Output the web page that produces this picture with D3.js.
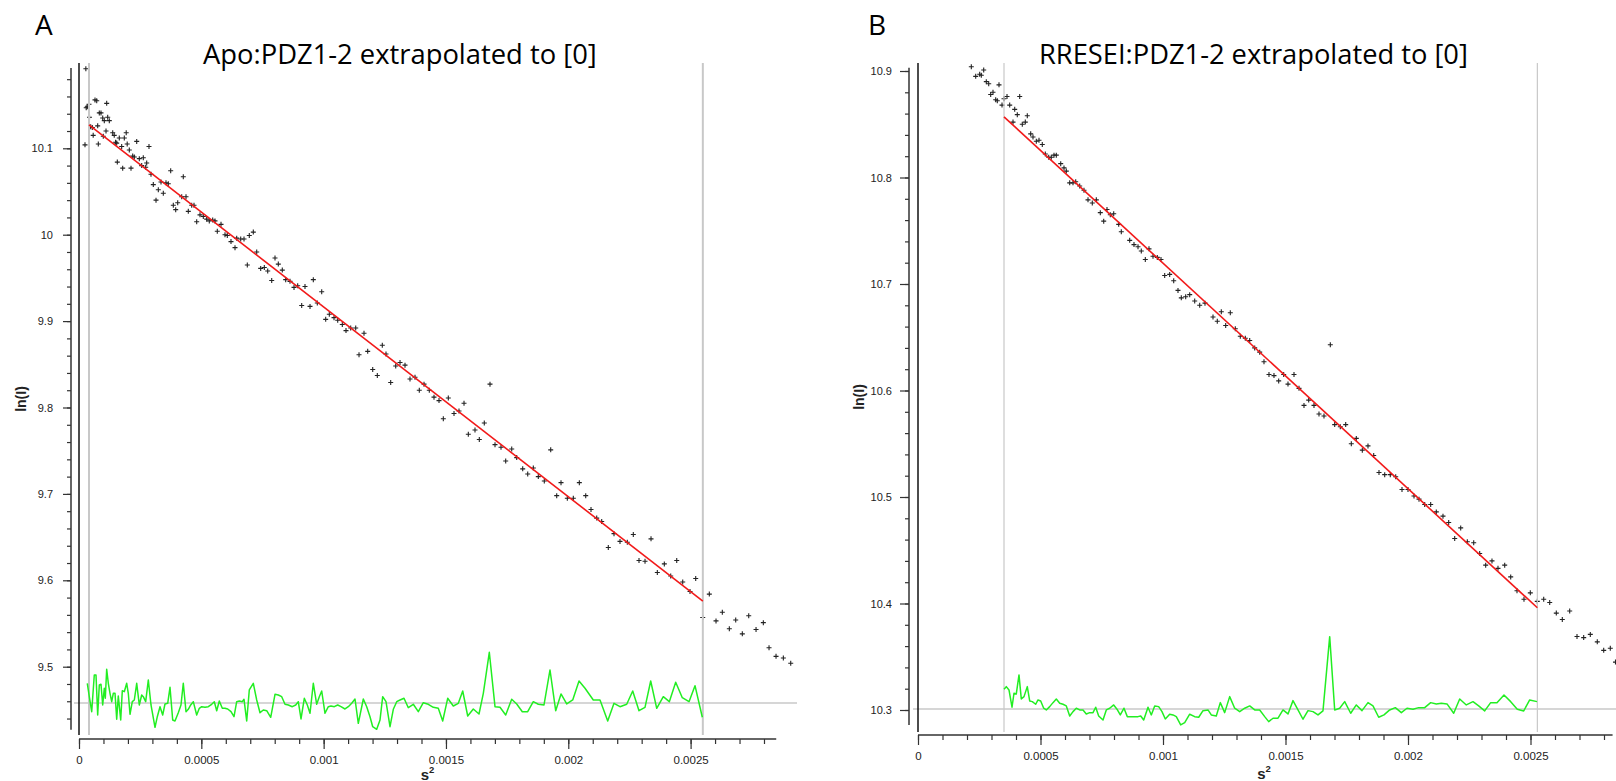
<!DOCTYPE html>
<html><head><meta charset="utf-8">
<script src="https://cdn.jsdelivr.net/npm/d3@7"></script>
<style>html,body{margin:0;padding:0;background:#fff;overflow:hidden}</style>
</head><body>
<svg id="chart" width="1616" height="781"></svg>
<script>
// ---------- DATA (s² stored in units of 1e-6) ----------
const titles = ["Apo:PDZ1-2 extrapolated to [0]", "RRESEI:PDZ1-2 extrapolated to [0]"];
const panelLetters = ["A", "B"];
const xTickValues = [0, 500, 1000, 1500, 2000, 2500];
const xTickLabels = ["0", "0.0005", "0.001", "0.0015", "0.002", "0.0025"];
const yTickValuesA = [9.5, 9.6, 9.7, 9.8, 9.9, 10.0, 10.1];
const yTickLabelsA = ["9.5", "9.6", "9.7", "9.8", "9.9", "10", "10.1"];
const yTickValuesB = [10.3, 10.4, 10.5, 10.6, 10.7, 10.8, 10.9];
const yTickLabelsB = ["10.3", "10.4", "10.5", "10.6", "10.7", "10.8", "10.9"];

// Panel A: Guinier data
const s2A = [24.5,28.0,29.5,33.9,40.9,43.0,47.8,54.4,58.0,65.4,72.4,76.4,78.9,83.0,89.9,96.9,99.3,103.4,110.4,113.2,117.3,123.9,137.8,144.0,149.5,154.1,156.6,164.7,174.5,178.6,185.2,193.0,197.0,205.6,212.6,219.5,226.1,235.9,246.5,256.3,262.8,272.6,276.7,286.1,294.3,303.7,314.8,324.2,335.2,344.6,355.6,365.0,374.8,385.5,395.3,403.5,419.8,426.3,437.4,446.8,460.7,470.1,481.1,494.6,508.1,522.0,532.6,546.5,555.9,565.3,580.5,596.8,606.2,621.3,637.7,644.6,661.0,674.5,688.0,696.1,712.5,726.4,742.7,757.5,771.4,787.7,801.2,814.7,831.0,844.9,862.5,878.9,893.9,910.3,923.8,944.3,957.8,974.1,992.1,1008.4,1023.2,1042.4,1057.5,1076.3,1091.4,1110.6,1131.1,1144.6,1165.0,1180.1,1200.6,1219.4,1239.8,1254.9,1274.1,1294.6,1312.2,1332.6,1353.0,1373.5,1391.0,1410.3,1431.9,1451.1,1471.6,1489.2,1509.6,1532.9,1553.3,1573.8,1591.4,1618.7,1636.3,1656.7,1680.0,1700.5,1725.0,1744.2,1768.8,1789.2,1813.7,1834.2,1857.1,1877.5,1902.0,1928.2,1952.7,1970.3,1996.1,2020.6,2045.2,2071.3,2092.9,2116.2,2136.6,2163.6,2186.9,2211.4,2241.3,2265.8,2289.1,2313.7,2338.2,2364.0,2392.6,2418.7,2443.3,2467.8,2497.6,2520.9,2549.6,2576.5,2603.9,2629.7,2658.3,2684.4,2711.4,2737.6,2767.5,2797.3,2820.6,2849.2,2879.1,2909.3];
const lnIA = [10.104,10.192,10.147,10.148,10.151,10.136,10.125,10.124,10.115,10.156,10.155,10.126,10.105,10.141,10.141,10.135,10.114,10.132,10.120,10.152,10.136,10.132,10.118,10.115,10.107,10.106,10.084,10.112,10.102,10.077,10.112,10.118,10.105,10.098,10.077,10.091,10.090,10.108,10.088,10.080,10.089,10.078,10.083,10.102,10.070,10.058,10.040,10.052,10.061,10.048,10.060,10.059,10.074,10.034,10.029,10.037,10.044,10.067,10.044,10.027,10.034,10.034,10.015,10.023,10.021,10.018,10.016,10.017,10.016,10.004,10.012,10.000,9.999,9.992,9.985,9.996,9.995,9.995,9.965,9.999,10.003,9.980,9.961,9.962,9.958,9.947,9.973,9.966,9.959,9.948,9.946,9.939,9.941,9.918,9.940,9.917,9.948,9.921,9.934,9.902,9.908,9.904,9.901,9.896,9.889,9.892,9.892,9.861,9.886,9.865,9.844,9.837,9.872,9.862,9.829,9.848,9.852,9.849,9.833,9.835,9.820,9.827,9.820,9.812,9.808,9.787,9.811,9.793,9.796,9.805,9.769,9.774,9.763,9.782,9.827,9.757,9.754,9.738,9.752,9.742,9.729,9.723,9.730,9.720,9.715,9.751,9.698,9.713,9.695,9.695,9.713,9.698,9.682,9.672,9.668,9.638,9.654,9.645,9.644,9.653,9.623,9.622,9.648,9.609,9.619,9.605,9.623,9.598,9.587,9.602,9.557,9.584,9.553,9.563,9.544,9.554,9.538,9.559,9.543,9.551,9.522,9.512,9.510,9.504];
const fitS2A = [40.9, 2550];
const fitLnIA = [10.127, 9.576];
const fitRangeA = [40.9, 2550];
const residBaseA = 9.458;
const residS2A = [33.9,42.1,51.9,62.5,69.5,76.4,83.0,89.9,96.9,103.4,107.5,113.2,119.8,126.7,133.7,140.2,147.2,154.1,160.6,170.5,177.0,185.2,195.0,201.5,208.5,217.9,226.1,235.9,246.5,256.3,262.8,272.6,283.3,294.3,310.7,320.1,331.1,342.1,351.5,362.6,372.0,383.0,392.4,405.9,416.9,426.3,437.4,446.8,456.6,467.2,481.1,491.8,501.6,515.1,528.5,542.4,553.1,562.9,573.5,585.8,596.8,607.8,621.3,633.6,644.6,655.3,667.5,674.5,685.5,696.1,712.5,726.4,739.9,753.4,767.3,783.6,801.2,814.7,828.6,842.1,855.6,871.9,885.8,896.4,907.5,921.0,933.3,944.3,957.8,971.6,982.3,992.1,1005.6,1019.1,1030.1,1043.6,1057.5,1071.0,1087.3,1100.8,1114.7,1128.2,1141.7,1162.2,1176.0,1189.5,1200.6,1216.9,1230.4,1241.4,1254.9,1271.3,1284.8,1298.7,1312.2,1328.5,1346.1,1366.5,1387.0,1407.4,1427.8,1448.3,1468.7,1486.7,1507.1,1530.0,1550.5,1568.5,1588.9,1611.8,1635.1,1652.7,1677.2,1700.5,1720.9,1744.2,1768.7,1789.2,1812.1,1834.1,1857.0,1877.5,1900.8,1925.3,1948.6,1970.3,1993.6,2018.1,2043.9,2068.4,2102.3,2129.7,2161.2,2186.9,2211.4,2238.8,2263.4,2289.1,2313.6,2336.9,2361.5,2388.4,2413.0,2439.1,2466.1,2493.5,2518.0,2547.9];
const residA = [1.97,0.63,-0.87,2.8,2.8,-1.2,1.8,1.87,-0.2,1.47,0.47,3.37,1.97,0.97,0.13,0.97,0.97,-1.63,0.7,-1.7,1.23,1.13,1.97,0.97,-1.13,0.13,0.3,1.97,-0.2,0.8,0.63,0.13,2.3,-0.2,-2.43,-1.37,-0.37,-1.2,-0.1,-0.03,1.57,-1.7,-1.8,-0.97,-0.2,1.97,-0.87,-0.63,-0.2,0.13,-1.2,-0.53,-0.37,-0.43,-0.37,-0.13,0.13,-0.77,0.2,-0.53,-0.53,-0.6,-0.87,-1.37,0.13,0.2,0.13,0.37,-1.8,1.3,1.97,0.3,-0.97,-0.7,-0.77,-1.43,0.87,0.8,0.63,-0.13,-0.2,-0.37,-0.2,0.13,-1.6,0.47,-0.2,-1.03,1.97,-0.13,0.63,1.2,-1.03,-0.37,-0.3,-0.37,-0.2,-0.37,-0.6,-0.37,-0.03,0.4,-2.03,0.4,-0.37,-1.37,-2.37,-2.63,-1.7,0.63,0.13,-2.37,-0.63,0.13,0.3,0.47,-0.47,-0.13,-0.87,0.03,-0.13,-0.43,-0.53,-1.8,0.47,-0.3,-0.03,1.2,-1.3,-0.6,-1.1,0.97,5.07,-0.37,-0.43,-1.2,0.37,-0.1,-0.87,-0.87,0.13,-0.13,-0.2,3.3,-0.77,0.9,-0.1,0.3,2.2,1.47,0.3,0.3,-1.8,-0.03,-0.37,-0.13,1.2,-0.77,-0.43,2.2,-0.53,0.63,0.13,2.07,0.53,0.13,1.73,-1.43];

// Panel B: Guinier data
const s2B = [217.6,235.5,251.8,258.4,268.2,278.8,288.6,296.7,306.1,317.1,323.7,330.6,342.9,351.0,363.3,374.3,387.8,394.7,405.3,415.1,425.7,438.0,446.1,460.0,469.4,482.9,493.9,507.3,519.6,533.5,544.1,555.1,564.5,582.5,595.9,605.3,619.2,632.6,643.7,660.0,677.5,693.9,711.4,727.8,744.1,758.0,771.4,784.9,798.8,819.2,829.8,864.1,881.6,898.0,911.4,927.8,942.8,959.2,976.7,991.8,1006.9,1027.3,1043.7,1061.2,1074.7,1092.6,1109.0,1129.4,1149.8,1171.4,1204.1,1221.6,1238.0,1255.9,1274.7,1295.1,1315.5,1335.9,1353.9,1374.3,1394.7,1412.2,1432.6,1453.0,1472.2,1492.6,1510.2,1534.7,1555.1,1575.5,1594.7,1616.3,1636.7,1657.1,1682.9,1700.8,1723.7,1745.7,1768.6,1789.0,1813.5,1836.7,1860.0,1881.6,1904.9,1927.7,1949.8,1975.5,2000.0,2024.5,2044.9,2068.2,2092.6,2115.5,2142.8,2166.1,2190.6,2215.1,2242.1,2268.2,2292.6,2317.1,2342.8,2367.3,2394.7,2419.2,2444.9,2473.4,2499.2,2527.7,2553.9,2578.4,2605.3,2629.8,2660.0,2689.8,2717.1,2744.1,2772.6,2798.8,2825.7,2846.9];
const lnIB = [10.904,10.895,10.897,10.896,10.901,10.890,10.888,10.878,10.880,10.873,10.872,10.887,10.868,10.874,10.876,10.868,10.852,10.864,10.859,10.876,10.850,10.852,10.858,10.841,10.838,10.834,10.835,10.831,10.822,10.819,10.819,10.821,10.821,10.813,10.809,10.806,10.795,10.795,10.796,10.792,10.788,10.779,10.776,10.779,10.767,10.759,10.770,10.765,10.766,10.756,10.749,10.741,10.737,10.735,10.731,10.723,10.733,10.726,10.725,10.723,10.708,10.709,10.703,10.694,10.687,10.688,10.690,10.684,10.680,10.682,10.669,10.665,10.674,10.661,10.673,10.658,10.651,10.649,10.647,10.640,10.636,10.627,10.615,10.614,10.609,10.615,10.606,10.615,10.602,10.586,10.591,10.586,10.578,10.576,10.643,10.568,10.566,10.568,10.550,10.555,10.544,10.548,10.539,10.523,10.521,10.521,10.519,10.507,10.507,10.501,10.498,10.493,10.493,10.486,10.482,10.476,10.461,10.471,10.458,10.457,10.447,10.436,10.440,10.433,10.436,10.425,10.412,10.404,10.410,10.402,10.404,10.401,10.391,10.385,10.393,10.369,10.368,10.371,10.364,10.356,10.358,10.345];
const fitS2B = [351.0, 2528];
const fitLnIB = [10.857, 10.396];
const fitRangeB = [351.0, 2528];
const residBaseB = 10.301;
const residS2B = [351.0,360.4,371.4,383.7,391.8,401.2,412.2,421.6,432.7,446.1,455.9,466.5,480.4,489.8,500.8,513.1,523.7,537.5,551.0,564.5,578.4,591.8,605.3,619.2,632.7,646.1,660.0,673.5,686.9,700.8,714.3,725.3,737.5,755.1,768.6,782.4,798.8,812.2,825.7,840.8,854.3,870.6,884.5,898.0,909.0,921.2,938.8,952.2,966.1,982.4,995.9,1009.4,1027.3,1040.8,1054.3,1072.2,1088.6,1109.0,1129.4,1145.7,1163.3,1183.7,1197.1,1217.5,1233.9,1251.8,1272.2,1292.6,1313.1,1333.5,1353.9,1374.3,1394.7,1415.1,1431.4,1449.0,1469.4,1489.8,1510.2,1530.6,1551.0,1571.4,1591.8,1612.2,1632.6,1653.0,1680.4,1700.8,1721.2,1741.6,1766.1,1789.0,1812.2,1836.7,1857.1,1880.4,1902.0,1925.3,1948.2,1972.7,1995.9,2020.4,2043.7,2068.2,2092.6,2115.5,2135.9,2159.2,2186.5,2211.0,2238.0,2265.3,2288.5,2313.0,2337.5,2363.2,2391.8,2419.2,2446.1,2472.3,2496.7,2526.5];
const residB = [1.97,2.23,1.9,0.17,1.57,1.5,3.4,1.0,1.23,2.23,0.8,0.73,0.47,0.9,0.8,0.07,-0.1,0.23,0.63,1.0,0.57,0.47,0.3,-0.7,-0.27,0.07,-0.1,-0.1,-0.5,-0.37,-0.37,0.17,-0.7,-1.1,-0.1,0.07,0.4,-0.03,-0.6,0.07,-0.77,-0.77,-0.77,-0.77,-0.7,-1.1,0.17,-0.6,0.3,0.23,-0.27,-1.0,-0.53,-0.6,-0.77,-1.6,-1.37,-0.53,-0.77,-0.83,-0.17,-0.1,-0.6,-0.7,0.63,-0.37,1.23,0.07,-0.27,0.07,0.3,-0.1,-0.1,-0.77,-1.27,-0.93,-0.93,-0.1,-0.5,0.83,-0.1,-1.03,-0.17,-0.27,-0.6,-0.2,7.23,-0.1,0.07,0.73,-0.43,0.4,-0.17,0.63,0.3,-0.83,-0.6,-0.1,0.13,-0.37,0.07,-0.03,0.13,0.13,0.63,0.5,0.57,0.5,-0.43,1.0,0.4,0.73,0.3,-0.2,0.63,0.63,1.4,0.73,-0.03,-0.2,0.9,0.73];

// ---------- LAYOUT ----------
const panels = [
  { letter: panelLetters[0], title: titles[0], s2: s2A, lnI: lnIA, fitS2: fitS2A, fitLnI: fitLnIA,
    fitRange: fitRangeA, residBase: residBaseA, residS2: residS2A, resid: residA,
    yTicks: yTickValuesA, yLabels: yTickLabelsA,
    xRange: [79, 690.6], yDomain: [9.5, 10.1], yRange: [666.7, 148.3],
    yAxisX: 71, yAxisExtent: [9.427, 10.193], yMajor: 8, yMinor: 4, yPad: 10,
    xAxisY: 739, xAxisExtent: [0, 2850], vTop: 63, vBot: 735, hLine: [74, 797],
    grayW: 2, titleX: 203, titleW: 394, letterX: 35, ylabX: 26, ylabY: 399, xlabX: 427.5, xlabY: 779.5 },
  { letter: panelLetters[1], title: titles[1], s2: s2B, lnI: lnIB, fitS2: fitS2B, fitLnI: fitLnIB,
    fitRange: fitRangeB, residBase: residBaseB, residS2: residS2B, resid: residB,
    yTicks: yTickValuesB, yLabels: yTickLabelsB,
    xRange: [918, 1530.5], yDomain: [10.3, 10.9], yRange: [710, 71],
    yAxisX: 909, yAxisExtent: [10.286, 10.903], yMajor: 9, yMinor: 4, yPad: 8,
    xAxisY: 735, xAxisExtent: [0, 2835], vTop: 63, vBot: 732, hLine: [913, 1616],
    grayW: 1.2, titleX: 1039, titleW: 429, letterX: 868, ylabX: 864, ylabY: 397, xlabX: 1264, xlabY: 778.5 }
];

const svg = d3.select("#chart");
const AX = "#333";

panels.forEach(p => {
  const g = svg.append("g");
  const x = d3.scaleLinear().domain([0, 2500]).range(p.xRange);
  const y = d3.scaleLinear().domain(p.yDomain).range(p.yRange);
  const yBase = y(p.residBase);
  const r = d3.scaleLinear().domain([-1, 1]).range([yBase + 10, yBase - 10]);

  // panel letter and title
  g.append("text").attr("x", p.letterX).attr("y", 35)
    .style("font-family", "Open Sans").style("font-size", "28px").attr("fill", "#000").text(p.letter);
  const t = g.append("text").attr("x", p.titleX).attr("y", 64)
    .style("font-family", "Open Sans").style("font-size", "26px").attr("fill", "#000").text(p.title);
  const w = t.node().getComputedTextLength();
  t.style("font-size", (26 * p.titleW / w).toFixed(2) + "px");

  // y axis (major + minor ticks)
  const yMinorVals = d3.range(Math.ceil(p.yAxisExtent[0] * 50), Math.floor(p.yAxisExtent[1] * 50) + 1).map(v => v / 50);
  g.append("g").attr("transform", `translate(${p.yAxisX},0)`)
    .call(d3.axisLeft(y).tickValues(yMinorVals).tickSize(p.yMinor).tickFormat(""))
    .call(a => a.select(".domain").remove())
    .call(a => a.selectAll("line").attr("stroke", AX).attr("stroke-width", 1.2));
  g.append("g").attr("transform", `translate(${p.yAxisX},0)`)
    .call(d3.axisLeft(y).tickValues(p.yTicks).tickSize(p.yMajor).tickPadding(p.yPad)
      .tickFormat((d, i) => p.yLabels[i]))
    .call(a => a.select(".domain").remove())
    .call(a => a.selectAll("line").attr("stroke", AX).attr("stroke-width", 1.2))
    .call(a => a.selectAll("text").attr("fill", "#222")
      .style("font-family", "Liberation Sans").style("font-size", "11px"));
  g.append("line").attr("x1", p.yAxisX).attr("x2", p.yAxisX)
    .attr("y1", y(p.yAxisExtent[0])).attr("y2", y(p.yAxisExtent[1]))
    .attr("stroke", AX).attr("stroke-width", 1.5);

  // x axis
  const xMinorVals = d3.range(0, p.xAxisExtent[1] + 1, 100);
  g.append("g").attr("transform", `translate(0,${p.xAxisY})`)
    .call(d3.axisBottom(x).tickValues(xMinorVals).tickSize(5).tickFormat(""))
    .call(a => a.select(".domain").remove())
    .call(a => a.selectAll("line").attr("stroke", AX).attr("stroke-width", 1.2));
  g.append("g").attr("transform", `translate(0,${p.xAxisY})`)
    .call(d3.axisBottom(x).tickValues(xTickValues).tickSize(10).tickPadding(7)
      .tickFormat((d, i) => xTickLabels[i]))
    .call(a => a.select(".domain").remove())
    .call(a => a.selectAll("line").attr("stroke", AX).attr("stroke-width", 1.2))
    .call(a => a.selectAll("text").attr("fill", "#222")
      .style("font-family", "Liberation Sans").style("font-size", "11.5px"));
  g.append("line").attr("x1", x(p.xAxisExtent[0])).attr("x2", x(p.xAxisExtent[1]))
    .attr("y1", p.xAxisY).attr("y2", p.xAxisY).attr("stroke", AX).attr("stroke-width", 1.5);

  // axis titles
  g.append("text").attr("transform", `translate(${p.ylabX},${p.ylabY}) rotate(-90)`)
    .attr("text-anchor", "middle").style("font-family", "Liberation Sans")
    .style("font-size", "14px").style("font-weight", "bold").attr("fill", "#222").text("ln(I)");
  const xl = g.append("text").attr("x", p.xlabX).attr("y", p.xlabY).attr("text-anchor", "middle")
    .style("font-family", "Liberation Sans").style("font-weight", "bold").attr("fill", "#222");
  xl.append("tspan").style("font-size", "15px").text("s");
  xl.append("tspan").style("font-size", "9.5px").attr("dy", -6.5).text("2");

  // residual baseline
  g.append("line").attr("x1", p.hLine[0]).attr("x2", p.hLine[1])
    .attr("y1", yBase).attr("y2", yBase).attr("stroke", "#c8c8c8").attr("stroke-width", 1.5);

  // zero line
  g.append("line").attr("x1", x(0)).attr("x2", x(0)).attr("y1", p.vTop).attr("y2", p.vBot)
    .attr("stroke", "#111").attr("stroke-width", 1.5);

  // data points
  const pts = p.s2.map((s, i) => [s, p.lnI[i]]);
  g.append("g").selectAll("path").data(pts).join("path")
    .attr("transform", d => `translate(${x(d[0])},${y(d[1])})`)
    .attr("d", "M-2.5,0H2.5M0,-2.5V2.5").attr("stroke", "#222").attr("stroke-width", 1.1).attr("fill", "none");

  // fit range lines
  p.fitRange.forEach(v => {
    g.append("line").attr("x1", x(v)).attr("x2", x(v)).attr("y1", p.vTop).attr("y2", p.vBot)
      .attr("stroke", "#c8c8c8").attr("stroke-width", p.grayW);
  });

  // fit line
  const fit = p.fitS2.map((s, i) => [s, p.fitLnI[i]]);
  g.append("path").datum(fit)
    .attr("d", d3.line().x(d => x(d[0])).y(d => y(d[1])))
    .attr("fill", "none").attr("stroke", "#f21a1a").attr("stroke-width", 1.6);

  // residuals
  const res = p.residS2.map((s, i) => [s, p.resid[i]]);
  g.append("path").datum(res)
    .attr("d", d3.line().x(d => x(d[0])).y(d => r(d[1])))
    .attr("fill", "none").attr("stroke", "#22ee22").attr("stroke-width", 1.5).attr("stroke-linejoin", "round");
});
</script>
</body></html>
